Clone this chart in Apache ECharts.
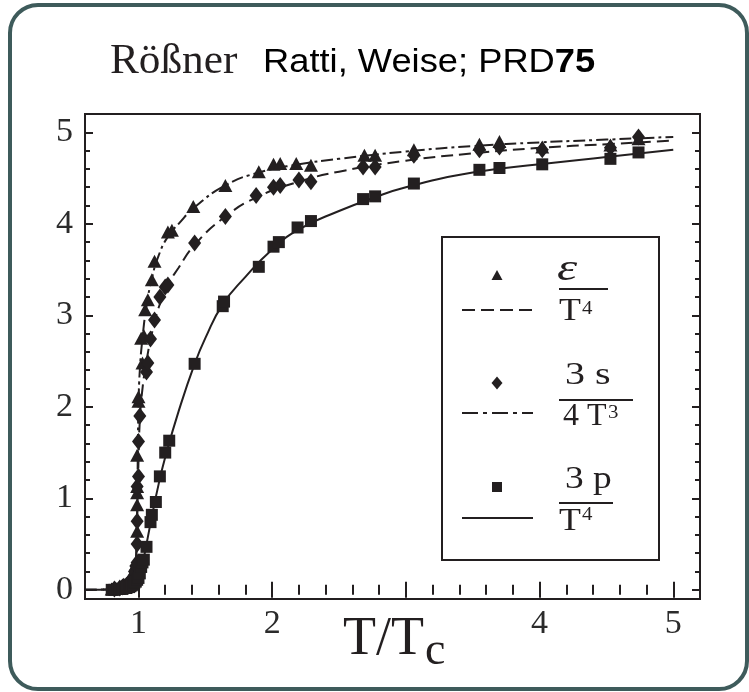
<!DOCTYPE html>
<html><head><meta charset="utf-8">
<script src="https://cdn.jsdelivr.net/npm/echarts@6/dist/echarts.min.js"></script>
<style>html,body{margin:0;padding:0;background:#fff}#c{width:749px;height:692px}</style>
</head><body><div id="c"></div>
<script>
// ---- axis ticks / labels ----
const xMajorTicks = [1, 2, 3, 4, 5];
const xTickLabels = [1, 2, 4, 5];
const xMinorTicks = [0.8, 1.2, 1.4, 1.6, 1.8, 2.2, 2.4, 2.6, 2.8, 3.2, 3.4, 3.6, 3.8, 4.2, 4.4, 4.6, 4.8];
const yMajorTicks = [0, 1, 2, 3, 4, 5];
const yTickLabels = [0, 1, 2, 3, 4, 5];
const yMinorTicks = [0.2, 0.4, 0.6, 0.8, 1.2, 1.4, 1.6, 1.8, 2.2, 2.4, 2.6, 2.8, 3.2, 3.4, 3.6, 3.8, 4.2, 4.4, 4.6, 4.8];

// ---- data: lattice points (T/Tc, value) ----
const epsPoints = [[0.80,0.01],[0.83,0.02],[0.85,0.02],[0.87,0.03],[0.89,0.04],[0.90,0.05],[0.92,0.08],[0.93,0.10],[0.94,0.12],[0.95,0.15],[0.96,0.17],[0.97,0.22],[0.98,0.28],[0.99,0.32],
  [0.99,0.64],[0.99,0.93],[0.99,1.06],[0.99,1.13],[0.99,1.47],[1.00,2.06],[1.00,2.11],[1.03,2.48],[1.02,2.75],[1.04,2.78],
  [1.05,3.06],[1.07,3.17],[1.10,3.39],[1.12,3.59],[1.22,3.91],[1.25,3.93],[1.41,4.19],[1.65,4.42],[1.90,4.57],[2.01,4.65],
  [2.06,4.66],[2.18,4.66],[2.29,4.64],[2.69,4.75],[2.77,4.75],[3.06,4.81],[3.55,4.87],[3.70,4.90],[4.02,4.84],[4.53,4.86],[4.74,4.93]];
const entropyPoints = [[0.82,0.01],[0.86,0.02],[0.88,0.03],[0.89,0.04],[0.91,0.05],[0.92,0.06],[0.94,0.09],[0.95,0.11],[0.96,0.14],[0.97,0.20],[0.98,0.26],[0.99,0.30],
  [0.99,0.50],[0.99,0.75],[0.99,1.13],[1.00,1.24],[1.00,1.62],[1.01,1.90],[1.06,2.38],[1.07,2.48],[1.09,2.74],[1.12,2.95],
  [1.16,3.20],[1.20,3.31],[1.22,3.33],[1.42,3.79],[1.65,4.08],[1.88,4.31],[2.01,4.40],[2.06,4.42],[2.20,4.48],[2.29,4.46],
  [2.68,4.62],[2.77,4.62],[3.06,4.75],[3.55,4.81],[3.70,4.84],[4.02,4.81],[4.53,4.83],[4.74,4.95]];
const pressurePoints = [[0.80,0.00],[0.82,0.00],[0.84,0.01],[0.86,0.01],[0.88,0.01],[0.90,0.02],[0.91,0.02],[0.93,0.03],[0.94,0.04],[0.95,0.05],[0.96,0.06],[0.97,0.08],[0.98,0.09],[0.99,0.11],[1.00,0.13],
  [1.01,0.18],[1.02,0.25],[1.03,0.30],[1.04,0.33],[1.06,0.47],[1.09,0.74],[1.10,0.82],[1.13,0.96],[1.16,1.24],[1.20,1.50],[1.23,1.63],
  [1.42,2.47],[1.63,3.10],[1.64,3.15],[1.90,3.53],[2.01,3.75],[2.05,3.80],[2.19,3.96],[2.29,4.03],[2.68,4.27],[2.77,4.30],
  [3.06,4.44],[3.55,4.59],[3.70,4.61],[4.02,4.65],[4.53,4.71],[4.74,4.78]];

// ---- data: model curves ----
const epsCurve = [[0.6,0],[0.8,0.01],[0.9,0.04],[0.95,0.12],[0.98,0.3],[0.99,0.8],[0.995,1.5],[1.0,2.0],[1.01,2.4],[1.03,2.75],
  [1.06,3.1],[1.1,3.4],[1.15,3.65],[1.22,3.86],[1.3,4.0],[1.42,4.18],[1.65,4.42],[1.9,4.56],[2.2,4.65],[2.5,4.71],[3.0,4.79],
  [3.5,4.85],[4.0,4.89],[4.5,4.92],[5.0,4.95]];
const entropyCurve = [[0.6,0],[0.8,0.01],[0.9,0.04],[0.95,0.12],[0.98,0.3],[0.99,0.8],[1.0,1.4],[1.01,1.85],[1.03,2.2],[1.06,2.5],
  [1.1,2.8],[1.15,3.08],[1.22,3.33],[1.3,3.52],[1.42,3.77],[1.65,4.08],[1.9,4.3],[2.2,4.46],[2.5,4.57],[3.0,4.69],[3.5,4.77],
  [4.0,4.83],[4.5,4.87],[5.0,4.91]];
const pressureCurve = [[0.6,0],[0.8,0.0],[0.9,0.01],[0.95,0.04],[0.98,0.08],[1.0,0.13],[1.02,0.22],[1.04,0.35],[1.06,0.5],
  [1.1,0.8],[1.15,1.15],[1.2,1.45],[1.3,1.95],[1.42,2.47],[1.5,2.75],[1.63,3.12],[1.8,3.42],[2.0,3.72],[2.2,3.94],[2.5,4.14],
  [2.75,4.28],[3.0,4.4],[3.5,4.56],[4.0,4.65],[4.5,4.73],[5.0,4.81]];

const ink = '#231f20';
const chart = echarts.init(document.getElementById('c'), null, {renderer: 'canvas'});

function xAx(pos, ticks, len, labels) {
  return {type: 'value', min: 0.6, max: 5.2, position: pos,
    axisLine: {show: false}, splitLine: {show: false},
    axisTick: {show: true, inside: true, length: len, customValues: ticks, lineStyle: {color: ink, width: 2}},
    axisLabel: labels ? {show: true, customValues: labels, margin: 8, fontFamily: 'Liberation Serif', fontSize: 34, color: '#2b2b2b', formatter: v => String(v)} : {show: false}};
}
function yAx(pos, ticks, len, labels) {
  return {type: 'value', min: -0.1, max: 5.2, position: pos,
    axisLine: {show: false}, splitLine: {show: false},
    axisTick: {show: true, inside: true, length: len, customValues: ticks, lineStyle: {color: ink, width: 2}},
    axisLabel: labels ? {show: true, customValues: labels, margin: 12, fontFamily: 'Liberation Serif', fontSize: 34, color: '#2b2b2b', formatter: v => String(v)} : {show: false}};
}

function txt(x, y, text, size, opts) {
  opts = opts || {};
  return {type: 'text', x: x, y: y, scaleX: opts.sx || 1, z: 100,
    style: {text: text, fill: ink, font: (opts.style || '') + ' ' + (opts.weight || '') + ' ' + size + 'px ' + (opts.family || '"Liberation Serif"'),
      textAlign: 'left', textVerticalAlign: 'middle', rich: opts.rich}};
}
function hline(x1, x2, y, dash, w) {
  return {type: 'line', z: 100, shape: {x1: x1, y1: y, x2: x2, y2: y}, style: {stroke: ink, lineWidth: w || 2, lineDash: dash || null}};
}

const graphics = [
  {type: 'rect', z: 0, shape: {x: 10, y: 5, width: 737, height: 684, r: 28}, style: {fill: null, stroke: '#3e5b5b', lineWidth: 4}},
  txt(110, 62, 'Rößner', 42, {sx: 1.03}),
  {type: 'text', x: 263, y: 63, scaleX: 1.1, z: 100, style: {text: '{a|Ratti, Weise; PRD}{b|75}', textVerticalAlign: 'middle',
    rich: {a: {fontFamily: 'Liberation Sans', fontSize: 33, fill: '#000'}, b: {fontFamily: 'Liberation Sans', fontSize: 33, fontWeight: 'bold', fill: '#000'}}}},
  txt(343, 640, 'T/T', 54),
  txt(425, 652, 'c', 46),
  // legend box
  {type: 'rect', z: 100, shape: {x: 442, y: 237, width: 217, height: 323}, style: {fill: '#fff', stroke: ink, lineWidth: 2}},
  {type: 'polygon', z: 101, shape: {points: [[491.5, 280], [502.5, 280], [497, 270]]}, style: {fill: ink}},
  hline(462, 533, 310, [13, 6]),
  txt(557, 270, 'ε', 38, {style: 'italic', sx: 1.35}),
  hline(559, 608, 289, null, 2),
  txt(559, 312, 'T', 32, {sx: 1.12}),
  txt(582, 309, '4', 19, {sx: 1.1}),
  {type: 'polygon', z: 101, shape: {points: [[497, 376.5], [502.5, 383], [497, 389.5], [491.5, 383]]}, style: {fill: ink}},
  hline(462, 533, 413, [16, 5, 4, 5]),
  txt(565, 376, '3 s', 32, {sx: 1.25}),
  hline(559, 633, 400, null, 2),
  txt(563, 417, '4 T', 32),
  txt(608, 413, '3', 19, {sx: 1.1}),
  {type: 'rect', z: 101, shape: {x: 492, y: 482, width: 10, height: 10}, style: {fill: ink}},
  hline(462, 533, 518, null, 2),
  txt(565, 480, '3 p', 32, {sx: 1.17}),
  hline(559, 613, 503, null, 2),
  txt(559, 522, 'T', 32, {sx: 1.12}),
  txt(582, 515, '4', 19, {sx: 1.1})
];

const option = {
  animation: false,
  backgroundColor: '#fff',
  grid: {left: 85, top: 114, width: 615, height: 485, show: true, borderColor: ink, borderWidth: 2, backgroundColor: 'transparent'},
  xAxis: [xAx('bottom', xMajorTicks, 8, xTickLabels), xAx('bottom', xMinorTicks, 5, null), xAx('top', xMajorTicks, 8, null), xAx('top', xMinorTicks, 5, null)],
  yAxis: [yAx('left', yMajorTicks, 8, yTickLabels), yAx('left', yMinorTicks, 5, null), yAx('right', yMajorTicks, 8, null), yAx('right', yMinorTicks, 5, null)],
  series: [
    {type: 'line', data: epsCurve, symbol: 'none', smooth: 0.5, lineStyle: {color: ink, width: 2, type: [12, 4, 3, 4]}, z: 2},
    {type: 'line', data: entropyCurve, symbol: 'none', smooth: 0.5, lineStyle: {color: ink, width: 2, type: [12, 6]}, z: 2},
    {type: 'line', data: pressureCurve, symbol: 'none', smooth: 0.5, lineStyle: {color: ink, width: 2, type: 'solid'}, z: 2},
    {type: 'scatter', data: epsPoints, symbol: 'triangle', symbolSize: [14, 13], itemStyle: {color: ink, opacity: 1}, z: 3},
    {type: 'scatter', data: entropyPoints, symbol: 'diamond', symbolSize: [13, 17], itemStyle: {color: ink, opacity: 1}, z: 3},
    {type: 'scatter', data: pressurePoints, symbol: 'rect', symbolSize: 12, itemStyle: {color: ink, opacity: 1}, z: 3}
  ],
  graphic: graphics
};
chart.setOption(option);
</script></body></html>
